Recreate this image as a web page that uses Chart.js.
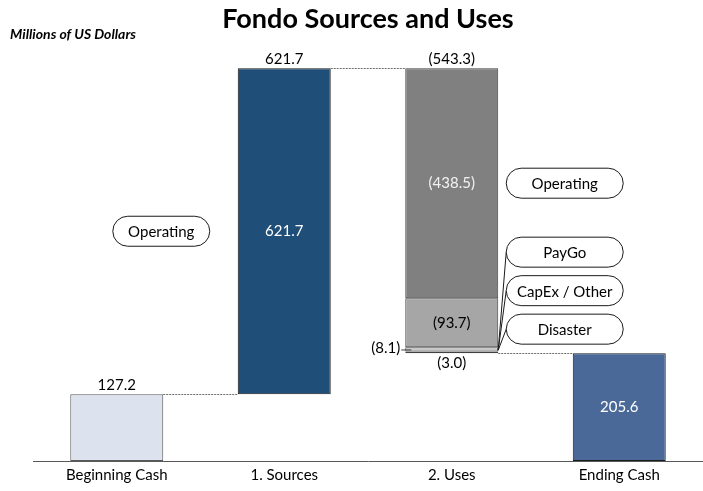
<!DOCTYPE html>
<html>
<head>
<meta charset="utf-8">
<script src="https://cdn.jsdelivr.net/npm/chart.js@4.4.0/dist/chart.umd.min.js"></script>
<style>
html, body { margin: 0; padding: 0; background: #fff; }
#wrap { width: 703px; height: 491px; }
</style>
</head>
<body>
<div id="wrap"><canvas id="myChart"></canvas></div>
<script>
// data
const categories = ['Beginning Cash', '1. Sources', '2. Uses', 'Ending Cash'];
const beginningCash = 127.2;
const sourceValues = [621.7];
const sourceNames = ['Operating'];
const useValues = [438.5, 93.7, 8.1, 3.0];
const useNames = ['Operating', 'CapEx / Other', 'PayGo', 'Disaster'];
const smallCallouts = ['PayGo', 'CapEx / Other', 'Disaster'];
const endingCash = 205.6;

const FONT = 'Lato, "Open Sans", sans-serif';
const fmt = v => v.toFixed(1);
const neg = v => '(' + v.toFixed(1) + ')';

// build floating bars
const sourceTotal = sourceValues.reduce((a, b) => a + b, 0);
const useTotal = useValues.reduce((a, b) => a + b, 0);
const peak = beginningCash + sourceTotal;

const useColors = ['#808080', '#a6a6a6', '#c8c8c8', '#d9d9d9'];
const datasets = [];

datasets.push({
    label: 'Beginning Cash',
    data: [[0, beginningCash], null, null, null],
    backgroundColor: '#dce3ee',
    borderColor: '#595959'
});

let run = beginningCash;
sourceValues.forEach((v, i) => {
    datasets.push({
        label: sourceNames[i],
        data: [null, [run, run + v], null, null],
        backgroundColor: '#1f4e79',
        borderColor: '#1a1a1a'
    });
    run += v;
});

useValues.forEach((v, i) => {
    datasets.push({
        label: useNames[i],
        data: [null, null, [run - v, run], null],
        backgroundColor: useColors[i],
        borderColor: '#404040'
    });
    run -= v;
});

datasets.push({
    label: 'Ending Cash',
    data: [null, null, null, [0, endingCash]],
    backgroundColor: '#4a6998',
    borderColor: '#1a1a1a'
});

datasets.forEach(d => {
    d.borderWidth = 1;
    d.borderSkipped = false;
    d.grouped = false;
    d.barPercentage = 0.555;
    d.categoryPercentage = 1;
});

function pill(ctx, cx, cy, w, h, text) {
    const r = h / 2;
    const x = cx - w / 2, y = cy - h / 2;
    ctx.beginPath();
    ctx.moveTo(x + r, y);
    ctx.lineTo(x + w - r, y);
    ctx.arc(x + w - r, y + r, r, -Math.PI / 2, Math.PI / 2);
    ctx.lineTo(x + r, y + h);
    ctx.arc(x + r, y + r, r, Math.PI / 2, Math.PI * 1.5);
    ctx.closePath();
    ctx.fillStyle = '#fff';
    ctx.fill();
    ctx.strokeStyle = '#1a1a1a';
    ctx.lineWidth = 1;
    ctx.stroke();
    ctx.fillStyle = '#000';
    ctx.textAlign = 'center';
    ctx.textBaseline = 'middle';
    ctx.fillText(text, cx, cy + 1);
}

const labelsPlugin = {
    id: 'waterfallLabels',
    afterDatasetsDraw(chart) {
        const ctx = chart.ctx;
        const xs = chart.scales.x, ys = chart.scales.y;
        const half = chart.getDatasetMeta(0).data[0].width / 2;
        const cx = i => xs.getPixelForValue(i);
        const py = v => ys.getPixelForValue(v);
        ctx.save();

        // subtitle
        ctx.font = 'italic bold 14px ' + FONT;
        ctx.fillStyle = '#000';
        ctx.textAlign = 'left';
        ctx.textBaseline = 'middle';
        ctx.fillText('Millions of US Dollars', 10, 34);

        // dotted connectors
        ctx.strokeStyle = '#6f6f6f';
        ctx.lineWidth = 1;
        ctx.setLineDash([2, 1]);
        const conn = [[0, beginningCash], [1, peak], [2, peak - useTotal]];
        conn.forEach(([i, v]) => {
            ctx.beginPath();
            ctx.moveTo(cx(i) + half, Math.round(py(v)) + 0.5);
            ctx.lineTo(cx(i + 1) - half, Math.round(py(v)) + 0.5);
            ctx.stroke();
        });
        ctx.setLineDash([]);

        ctx.font = '15px ' + FONT;
        ctx.textAlign = 'center';
        ctx.textBaseline = 'bottom';
        ctx.fillStyle = '#000';
        // totals above bars
        ctx.fillText(fmt(beginningCash), cx(0), py(beginningCash) - 2);
        ctx.fillText(fmt(sourceTotal), cx(1), py(peak) - 2);
        ctx.fillText(neg(useTotal), cx(2), py(peak) - 2);

        // inside labels
        ctx.textBaseline = 'middle';
        ctx.fillStyle = '#fff';
        ctx.fillText(fmt(sourceValues[0]), cx(1), py(beginningCash + sourceValues[0] / 2));
        ctx.fillText(fmt(endingCash), cx(3), py(endingCash / 2));

        let top = peak;
        const mids = useValues.map(v => { const m = top - v / 2; top -= v; return m; });
        ctx.fillStyle = '#f2f2f2';
        ctx.fillText(neg(useValues[0]), cx(2), py(mids[0]));
        ctx.fillStyle = '#000';
        ctx.fillText(neg(useValues[1]), cx(2), py(mids[1]));

        // small segments
        const yPay = py(mids[2]);
        ctx.textAlign = 'right';
        ctx.fillText(neg(useValues[2]), cx(2) - half - 5, yPay - 1);
        ctx.beginPath();
        ctx.moveTo(cx(2) - half - 4, yPay + 0.5);
        ctx.lineTo(cx(2) - half + 6, yPay + 0.5);
        ctx.strokeStyle = '#404040';
        ctx.stroke();
        ctx.textAlign = 'center';
        ctx.textBaseline = 'top';
        ctx.fillText(neg(useValues[3]), cx(2), py(peak - useTotal) + 2);

        // callouts
        ctx.font = '15px ' + FONT;
        pill(ctx, cx(1) - half - 28 - 48.5, py(beginningCash + sourceValues[0] / 2), 97, 30, sourceNames[0]);

        const px = cx(2) + half + 8 + 58.5;
        pill(ctx, px, py(mids[0]), 117, 30, useNames[0]);

        const bottomY = py(peak - useTotal);
        const cornerX = cx(2) + half, cornerY = bottomY - 3;
        const pys = smallCallouts.map((_, k) => bottomY - 24 - (smallCallouts.length - 1 - k) * 38.5);
        ctx.strokeStyle = '#1a1a1a';
        pys.forEach(y => {
            ctx.beginPath();
            ctx.moveTo(cornerX, cornerY);
            ctx.lineTo(px - 58.5, y);
            ctx.stroke();
        });
        smallCallouts.forEach((t, k) => pill(ctx, px, pys[k], 117, 30, t));

        ctx.restore();
    }
};

const config = {
    type: 'bar',
    data: { labels: categories, datasets: datasets },
    options: {
        responsive: true,
        maintainAspectRatio: false,
        animation: false,
        layout: { padding: { left: 33, right: 0, top: 0, bottom: 7 } },
        plugins: {
            legend: { display: false },
            tooltip: { enabled: false },
            title: {
                display: true,
                text: 'Fondo Sources and Uses',
                color: '#000',
                font: { family: FONT, size: 27, weight: 'bold' },
                padding: { top: 3, bottom: 6 }
            }
        },
        scales: {
            x: {
                grid: { display: false, tickLength: 5 },
                border: { display: true, color: '#595959' },
                ticks: { color: '#000', font: { family: FONT, size: 15 }, padding: 0 }
            },
            y: {
                display: false,
                min: 0,
                max: 800
            }
        }
    },
    plugins: [labelsPlugin]
};

const myChart = new Chart(document.getElementById('myChart'), config);
</script>
</body>
</html>
